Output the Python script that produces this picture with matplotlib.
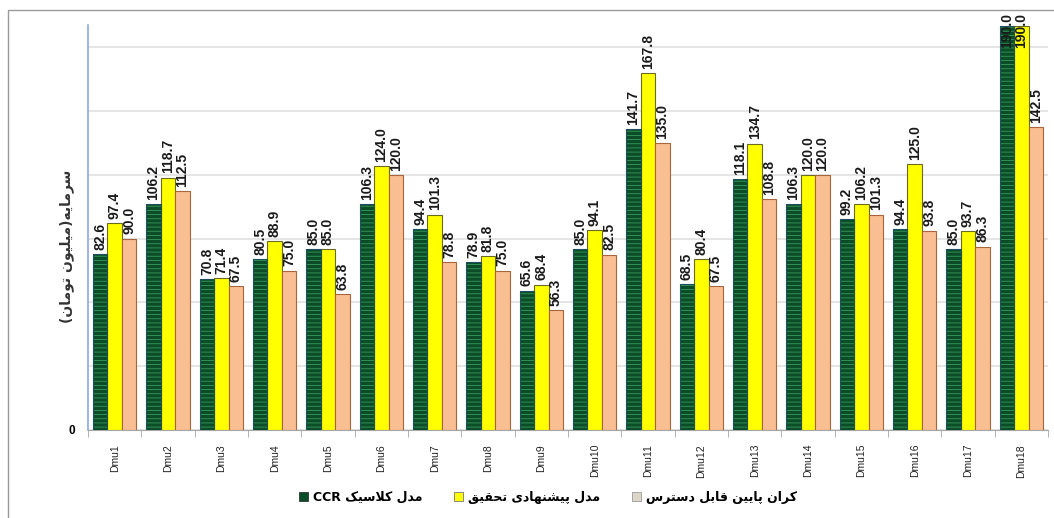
import numpy as np
import matplotlib
matplotlib.use('Agg')
import matplotlib.pyplot as plt
from matplotlib.patches import Rectangle, Patch

# data
dmu = ['Dmu1', 'Dmu2', 'Dmu3', 'Dmu4', 'Dmu5', 'Dmu6', 'Dmu7', 'Dmu8', 'Dmu9',
       'Dmu10', 'Dmu11', 'Dmu12', 'Dmu13', 'Dmu14', 'Dmu15', 'Dmu16', 'Dmu17', 'Dmu18']
ccr = [82.6, 106.2, 70.8, 80.5, 85.0, 106.3, 94.4, 78.9, 65.6,
       85.0, 141.7, 68.5, 118.1, 106.3, 99.2, 94.4, 85.0, 190.0]
proposed = [97.4, 118.7, 71.4, 88.9, 85.0, 124.0, 101.3, 81.8, 68.4,
            94.1, 167.8, 80.4, 134.7, 120.0, 106.2, 125.0, 93.7, 190.0]
lower = [90.0, 112.5, 67.5, 75.0, 63.8, 120.0, 78.8, 75.0, 56.3,
         82.5, 135.0, 67.5, 108.8, 120.0, 101.3, 93.8, 86.3, 142.5]

name_ccr = 'مدل کلاسیک'
name_prop = 'مدل پیشنهادی تحقیق'
name_low = 'کران پایین قابل دسترس'
ylabel = 'سرمایه(میلیون تومان)'

# tiny persian shaper (no arabic_reshaper / bidi available)
FORMS = {
    'ا': ('\uFE8D', '\uFE8E', None, None),
    'ب': ('\uFE8F', '\uFE90', '\uFE91', '\uFE92'),
    'ت': ('\uFE95', '\uFE96', '\uFE97', '\uFE98'),
    'ح': ('\uFEA1', '\uFEA2', '\uFEA3', '\uFEA4'),
    'د': ('\uFEA9', '\uFEAA', None, None),
    'ر': ('\uFEAD', '\uFEAE', None, None),
    'س': ('\uFEB1', '\uFEB2', '\uFEB3', '\uFEB4'),
    'ش': ('\uFEB5', '\uFEB6', '\uFEB7', '\uFEB8'),
    'ق': ('\uFED5', '\uFED6', '\uFED7', '\uFED8'),
    'ل': ('\uFEDD', '\uFEDE', '\uFEDF', '\uFEE0'),
    'م': ('\uFEE1', '\uFEE2', '\uFEE3', '\uFEE4'),
    'ن': ('\uFEE5', '\uFEE6', '\uFEE7', '\uFEE8'),
    'ه': ('\uFEE9', '\uFEEA', '\uFEEB', '\uFEEC'),
    'و': ('\uFEED', '\uFEEE', None, None),
    'پ': ('\uFB56', '\uFB57', '\uFB58', '\uFB59'),
    'ک': ('\uFB8E', '\uFB8F', '\uFB90', '\uFB91'),
    'ی': ('\uFBFC', '\uFBFD', '\uFBFE', '\uFBFF'),
}
MIRROR = {'(': ')', ')': '('}


def shape(s):
    out = []
    i = 0
    while i < len(s):
        c = s[i]
        prev = s[i - 1] if i > 0 else ''
        nxt = s[i + 1] if i + 1 < len(s) else ''
        p = prev in FORMS and FORMS[prev][2] is not None
        if c == 'ل' and nxt == 'ا':
            out.append('\uFEFC' if p else '\uFEFB')
            i += 2
            continue
        if c not in FORMS:
            out.append(MIRROR.get(c, c))
            i += 1
            continue
        f = FORMS[c]
        n = nxt in FORMS and f[2] is not None
        if p and n:
            out.append(f[3])
        elif p:
            out.append(f[1])
        elif n:
            out.append(f[2])
        else:
            out.append(f[0])
        i += 1
    return ''.join(out)[::-1]


GREEN = '#0a4d27'
GREEN_LINE = '#3a9a5c'
YELLOW = '#ffff00'
PEACH = '#f9bf93'

plt.rcParams['hatch.linewidth'] = 0.6

fig = plt.figure(figsize=(10.54, 5.18), dpi=100)
ax = fig.add_axes([88 / 1054, 1 - 430 / 518, 960 / 1054, 405 / 518])

x = np.arange(len(dmu))
w = 0.27
ymax = 190.5

b1 = ax.bar(x - w, ccr, w, color=GREEN, edgecolor=GREEN_LINE, hatch='----',
            linewidth=0, zorder=3)
ax.bar(x - w, ccr, w, fill=False, edgecolor='#1d4f5e', linewidth=0.8, zorder=4)
b2 = ax.bar(x, proposed, w, color=YELLOW, edgecolor='#6b6b20', linewidth=0.8, zorder=3)
b3 = ax.bar(x + w, lower, w, color=PEACH, edgecolor='#a8643c', linewidth=0.8, zorder=3)

for off, vals in [(-w, ccr), (0, proposed), (w, lower)]:
    for xi, v in zip(x, vals):
        if v + 18 > ymax:
            ax.text(xi + off, 196, '%.1f' % v, rotation=90, ha='center', va='top',
                    fontsize=10, fontweight='bold', family='Liberation Sans',
                    color='#1a1a1a', zorder=5)
        else:
            ax.annotate('%.1f' % v, (xi + off, v), xytext=(0, 3), textcoords='offset points',
                        rotation=90, ha='center', va='bottom', fontsize=10,
                        fontweight='bold', family='Liberation Sans', color='#1a1a1a',
                        zorder=5)

ax.set_xlim(-0.5, len(dmu) - 0.5)
ax.set_ylim(0, ymax)
ax.set_yticks(np.arange(0, 181, 30))
ax.set_yticklabels(['0'] + [''] * 6, fontsize=8.5, fontweight='bold', family='Liberation Sans')
ax.tick_params(axis='y', length=0, pad=9)
ax.yaxis.grid(True, color='#e0e0e0', linewidth=1.2, zorder=0)

ax.set_xticks(x)
ax.set_xticklabels(dmu, rotation=90, fontsize=7.5, family='Liberation Sans', color='#222222')
ax.set_xticks(np.arange(-0.5, len(dmu), 1), minor=True)
ax.tick_params(axis='x', which='major', length=0, pad=10)
ax.tick_params(axis='x', which='minor', length=5, color='#a6a6a6')

for s in ['top', 'right']:
    ax.spines[s].set_visible(False)
ax.spines['left'].set_color('#8eaadb')
ax.spines['left'].set_linewidth(1.2)
ax.spines['bottom'].set_color('#a6a6a6')

fig.text(67 / 1054, 1 - 246 / 518, shape(ylabel), rotation=90, ha='center', va='center',
         fontsize=10, fontweight='bold', family='DejaVu Sans', color='#333333')

handles = [Patch(facecolor=GREEN, edgecolor='#333333', linewidth=0.6),
           Patch(facecolor=YELLOW, edgecolor='#777777', linewidth=0.6),
           Patch(facecolor='#dcd6c8', edgecolor='#999999', linewidth=0.6)]
labels = ['CCR ' + shape(name_ccr), shape(name_prop), shape(name_low)]
fig.legend(handles, labels, loc='center', bbox_to_anchor=(548 / 1054, 1 - 497 / 518),
           ncol=3, frameon=False, handlelength=0.75, handleheight=0.75, handletextpad=0.4,
           columnspacing=2.5, prop={'family': 'DejaVu Sans', 'weight': 'bold', 'size': 9})

fig.add_artist(Rectangle((8 / 1054, -0.1), 1.2, 1 - 10 / 518 + 0.1, transform=fig.transFigure,
                         fill=False, edgecolor='#9a9a9a', linewidth=1))

fig.savefig('out.png', dpi=100)
